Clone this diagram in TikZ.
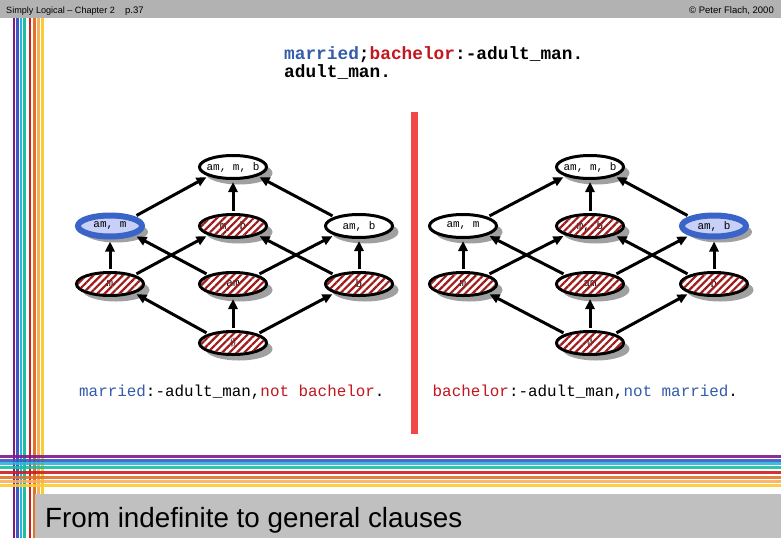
\documentclass[tikz,border=0pt]{standalone}
\usepackage{fontspec}
\setmainfont{Liberation Serif}
\setsansfont{Liberation Sans}
\setmonofont{Liberation Mono}
\usetikzlibrary{shapes.geometric,arrows.meta,patterns.meta,shadows}

\definecolor{hdrgray}{RGB}{178,178,178}
\definecolor{boxgray}{RGB}{192,192,192}
\definecolor{sPurple}{RGB}{128,24,140}
\definecolor{sBlue}{RGB}{60,90,190}
\definecolor{sCyan}{RGB}{40,180,225}
\definecolor{sTeal}{RGB}{30,190,160}
\definecolor{sRed}{RGB}{205,30,30}
\definecolor{sOrange}{RGB}{225,115,40}
\definecolor{sLOrange}{RGB}{248,175,95}
\definecolor{sYellow}{RGB}{248,205,50}
\definecolor{barRed}{RGB}{240,72,72}
\definecolor{txtBlue}{RGB}{52,92,170}
\definecolor{txtRed}{RGB}{196,22,30}
\definecolor{hatchRed}{RGB}{160,28,28}
\definecolor{hlBlue}{RGB}{58,100,200}
\definecolor{hlFill}{RGB}{200,208,248}
\definecolor{shadowGray}{RGB}{160,160,160}

\newcommand\lbltext[1]{\makebox[0pt]{#1}}

\tikzset{
  lnode/.style={ellipse, inner sep=0pt, minimum width=67pt, minimum height=23pt,
    line width=3pt, draw=black, fill=white,
    font=\fontsize{11}{12}\ttfamily,
    drop shadow={shadow xshift=6pt, shadow yshift=-6pt, fill=shadowGray, opacity=1}},
  plainnode/.style={lnode},
  hatchnode/.style={lnode},
  hlnode/.style={lnode, line width=6pt, minimum width=64pt, minimum height=21pt,
    draw=hlBlue, fill=hlFill},
  hatchfill/.style={pattern={Lines[angle=45,distance=5.2pt,line width=2.2pt]},
    pattern color=hatchRed},
  arr/.style={line width=3pt, -{Triangle[length=10pt,width=9pt]},
    shorten >=2pt, shorten <=2pt},
  stripe/.style={line width=2.8pt},
  codetext/.style={anchor=base west, inner sep=0pt},
}

% #1 prefix, #2 centre x, #3 left x, #4 right x, #5 style left middle, #6 style right middle
\newcommand\drawlattice[6]{%
  \node[plainnode] (#1top) at (#2,167) {\lbltext{am, m, b}};
  \node[#5] (#1amm) at (#3,226) {\lbltext{am, m}};
  \node[hatchnode] (#1mb) at (#2,226) {\lbltext{m, b}};
  \node[#6] (#1amb) at (#4,226) {\lbltext{am, b}};
  \node[hatchnode] (#1m) at (#3,284) {\lbltext{m}};
  \node[hatchnode] (#1am) at (#2,284) {\lbltext{am}};
  \node[hatchnode] (#1b) at (#4,284) {\lbltext{b}};
  \node[hatchnode] (#1e) at (#2,343) {\lbltext{$\emptyset$}};
  \foreach \n in {mb,m,am,b,e}{
    \path[hatchfill] (#1\n.center) ellipse [x radius=32pt, y radius=10pt];
  }
  \draw[arr] (#1amm.north east) -- (#1top.south west);
  \draw[arr] (#1mb.north) -- (#1top.south);
  \draw[arr] (#1amb.north west) -- (#1top.south east);
  \draw[arr] (#1m.north) -- (#1amm.south);
  \draw[arr] (#1m.north east) -- (#1mb.south west);
  \draw[arr] (#1am.north west) -- (#1amm.south east);
  \draw[arr] (#1am.north east) -- (#1amb.south west);
  \draw[arr] (#1b.north west) -- (#1mb.south east);
  \draw[arr] (#1b.north) -- (#1amb.south);
  \draw[arr] (#1e.north west) -- (#1m.south east);
  \draw[arr] (#1e.north) -- (#1am.south);
  \draw[arr] (#1e.north east) -- (#1b.south west);
}

\begin{document}
\begin{tikzpicture}[x=1pt,y=-1pt]
\useasboundingbox (0,0) rectangle (781,538);
\fill[white] (0,0) rectangle (781,538);

% header bar
\fill[hdrgray] (0,0) rectangle (781,18);
\node[anchor=base west, inner sep=0pt, font=\sffamily\fontsize{9.1}{10}\selectfont] (hdrL) at (6,13) {Simply Logical – Chapter 2};
\node[anchor=base west, inner sep=0pt, font=\sffamily\fontsize{9.5}{10}\selectfont] (hdrP) at (125,13.5) {p.37};
\node[anchor=base east, inner sep=0pt, font=\sffamily\fontsize{9.5}{10}\selectfont] (hdrR) at (774,13) {© Peter Flach, 2000};

% vertical rainbow stripes
\foreach \c/\x in {sPurple/14,sBlue/17.7,sCyan/21,sTeal/24.7,sRed/30,sOrange/34.7,sLOrange/38.7,sYellow/42.7}{
  \draw[stripe,\c] (\x,18) -- (\x,538);
}
% horizontal rainbow stripes
\foreach \c/\y in {sPurple/456.5,sBlue/460.3,sCyan/463.8,sTeal/467.5,sRed/472.8,sOrange/477.2,sLOrange/481.2,sYellow/485.2}{
  \draw[stripe,\c,opacity=0.9] (0,\y) -- (781,\y);
}

% title box
\fill[boxgray] (35,494) rectangle (781,538);
\node[anchor=base west, inner sep=0pt, font=\sffamily\fontsize{27.8}{30}\selectfont] (title) at (45,527) {From indefinite to general clauses};

% top program
\node[codetext, font=\fontsize{17.8}{20}\ttfamily\bfseries] (prog1) at (284,59.5)
  {\textcolor{txtBlue}{married};\textcolor{txtRed}{bachelor}:-adult\_man.};
\node[codetext, font=\fontsize{17.8}{20}\ttfamily\bfseries] (prog2) at (284,77.5) {adult\_man.};

% separating bar
\fill[barRed] (411,112) rectangle (418,434);

% lattices
\drawlattice{L}{233}{110}{359}{hlnode}{plainnode}
\drawlattice{R}{590}{463}{714}{plainnode}{hlnode}

% clauses
\node[codetext, font=\fontsize{15.9}{18}\ttfamily] (clL) at (79,396)
  {\textcolor{txtBlue}{married}:-adult\_man,\textcolor{txtRed}{not bachelor}.};
\node[codetext, font=\fontsize{15.9}{18}\ttfamily] (clR) at (432.5,396)
  {\textcolor{txtRed}{bachelor}:-adult\_man,\textcolor{txtBlue}{not married}.};
\end{tikzpicture}
\end{document}
